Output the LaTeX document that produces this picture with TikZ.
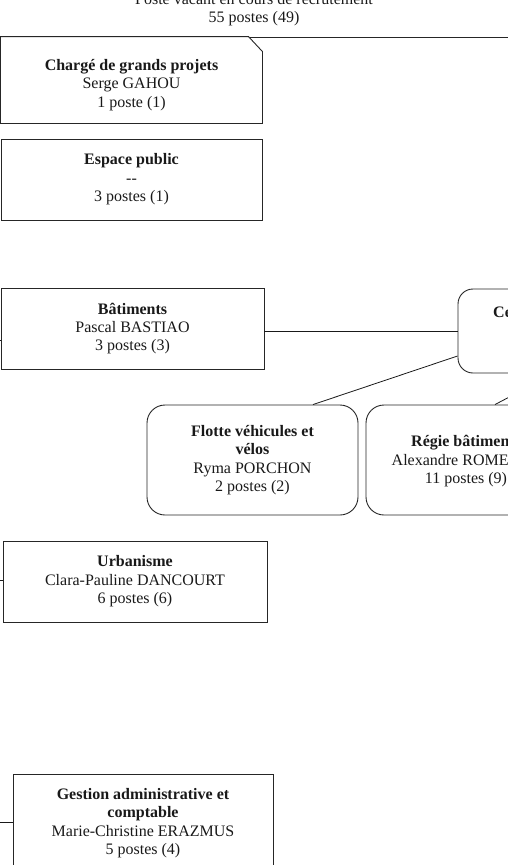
\documentclass[tikz,border=0pt]{standalone}
\usepackage{fontspec}
\setmainfont{Liberation Serif}
\usetikzlibrary{calc}
\newcommand\myfs{\fontsize{16}{18.4}\selectfont}
\begin{document}
\begin{tikzpicture}[x=1pt,y=-1pt,
  box/.style={draw=black!85, line width=0.9pt, inner sep=0pt, align=center, font=\myfs, text=black!90},
  rbox/.style={box, rounded corners=18pt},
  txt/.style={inner sep=0pt, font=\myfs, text=black!90},
  conn/.style={draw=black!90, line width=0.8pt}]
\useasboundingbox (0,0) rectangle (508,865);
\clip (0,0) rectangle (508,865);
% parent box (mostly above the picture)
\node[box, minimum width=548pt, minimum height=137pt] (parent) at (254,-31.5) {};
\node[txt, anchor=base] (top1) at (254,4.5) {Poste vacant en cours de recrutement};
\node[txt, anchor=base] (top2) at (254,22.5) {55 postes (49)};
% Chargé de grands projets (cut corner)
\node[box, draw=none, minimum width=261pt, minimum height=86pt] (charge) at (131.5,80) {};
\draw[draw=black!85, line width=0.9pt, fill=white] (charge.south west) -- (charge.north west) -- ([xshift=-14pt]charge.north east) -- ([yshift=-15pt]charge.north east) -- (charge.south east) -- cycle;
\node[txt, align=center] (chargetxt) at ([yshift=-5pt]charge.center) {\textbf{Chargé de grands projets}\\Serge GAHOU\\1 poste (1)};
% Espace public
\node[box, minimum width=261pt, minimum height=81pt] (espace) at (131.5,179.5)
  {\textbf{Espace public}\\-{}-\\3 postes (1)};
% Bâtiments
\node[box, minimum width=263pt, minimum height=81pt] (bat) at (132.5,328.5)
  {\textbf{Bâtiments}\\Pascal BASTIAO\\3 postes (3)};
% Ce... (cut at right)
\node[rbox, rounded corners=15pt, minimum width=192pt, minimum height=84pt] (ce) at (554,331) {};
\node[txt, anchor=base west] (cetxt) at (493,317.5) {\textbf{Ce}};
% Flotte
\node[rbox, minimum width=211pt, minimum height=110pt] (flotte) at (252.5,460)
  {\textbf{Flotte véhicules et}\\\textbf{vélos}\\Ryma PORCHON\\2 postes (2)};
% Régie (cut at right)
\node[rbox, minimum width=211pt, minimum height=110pt] (regie) at (471.5,460) {};
\node[txt, anchor=base west] (regie1) at (411,446.5) {\textbf{Régie bâtimen}};
\node[txt, anchor=base west] (regie2) at (391.5,465) {Alexandre ROME};
\node[txt, anchor=base] (regie3) at (466,483.5) {11 postes (9)};
% Urbanisme
\node[box, minimum width=264pt, minimum height=81pt] (urba) at (135,581.5)
  {\textbf{Urbanisme}\\Clara-Pauline DANCOURT\\6 postes (6)};
% Gestion
\node[box, minimum width=260pt, minimum height=98pt] (gest) at (143,823)
  {\textbf{Gestion administrative et}\\\textbf{comptable}\\Marie-Christine ERAZMUS\\5 postes (4)};
% connectors
\coordinate (lb) at (-5,340);
\coordinate (lu) at (-5,580);
\coordinate (lg) at (-5,822);
\draw[conn] (lb) -- (lb -| bat.west);
\draw[conn] (lu) -- (lu -| urba.west);
\draw[conn] (lg) -- (lg -| gest.west);
\draw[conn] (ce.west) -- (ce.west -| bat.east);
\draw[conn] ([yshift=-25pt]ce.west) -- ([xshift=60.5pt]flotte.north);
\draw[conn] ([xshift=23.5pt]regie.north) -- (ce.south);
\end{tikzpicture}
\end{document}
